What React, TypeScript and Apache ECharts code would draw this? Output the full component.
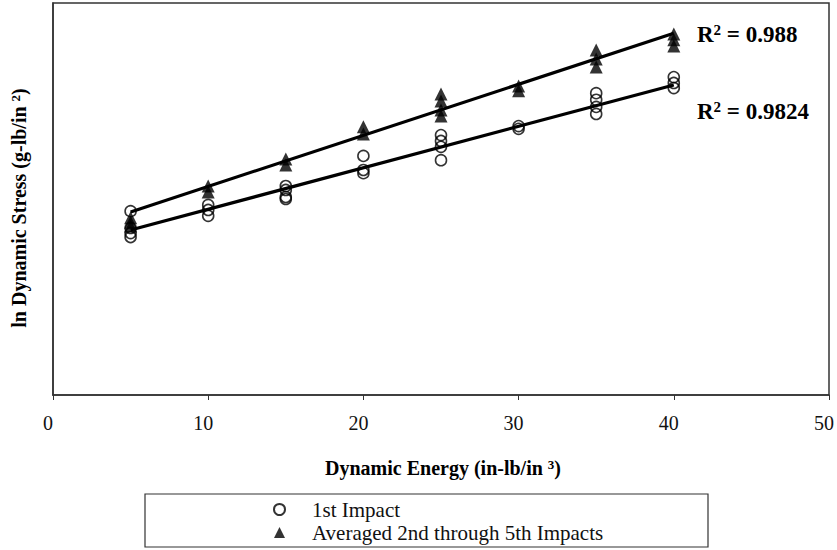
import React, { useEffect, useRef } from "react";
import * as echarts from "echarts";

// Dynamic energy levels (in-lb/in^3)
const energyLevels = [5, 10, 15, 20, 25, 30, 35, 40];

// ln dynamic stress readings (arbitrary units, axis unlabeled), one list per energy level
const firstImpact = [
  [4.69, 4.26, 4.13, 4.03],
  [4.85, 4.72, 4.57],
  [5.33, 5.23, 5.05, 5.0],
  [6.1, 5.74, 5.66],
  [6.63, 6.48, 6.33, 5.99],
  [6.86, 6.79],
  [7.7, 7.53, 7.35, 7.17],
  [8.11, 7.96, 7.83],
];

const averagedImpacts = [
  [4.52, 4.41, 4.31],
  [5.33, 5.18],
  [6.02, 5.87],
  [6.84, 6.66],
  [7.68, 7.5, 7.27, 7.12],
  [7.88, 7.76],
  [8.8, 8.57, 8.37],
  [9.21, 9.06, 8.9],
];

// Linear trendline end points
const trendX = [5, 40];
const trendFirst = [4.21, 7.91];
const trendAveraged = [4.67, 9.23];

const xTicks = [0, 10, 20, 30, 40, 50];
const r2First = "0.9824";
const r2Averaged = "0.988";

const serif = "'Liberation Serif', 'Times New Roman', serif";
const ink = "#111";

function toPoints(groups: number[][]) {
  const out: [number, number][] = [];
  groups.forEach((g, i) => g.forEach((v) => out.push([energyLevels[i], v])));
  return out;
}

export default function App() {
  const ref = useRef<HTMLDivElement>(null);
  useEffect(() => {
    if (!ref.current) return;
    const chart = echarts.init(ref.current, null, { renderer: "svg" });
    const supRich = {
      m: { fontFamily: serif, fontWeight: "bold", fontSize: 20, color: ink },
      s: { fontFamily: serif, fontWeight: "bold", fontSize: 13, color: ink, verticalAlign: "top" },
    };
    const r2Rich = {
      m: { fontFamily: serif, fontWeight: "bold", fontSize: 23, color: ink },
      s: { fontFamily: serif, fontWeight: "bold", fontSize: 15, color: ink, verticalAlign: "top" },
    };
    chart.setOption({
      animation: false,
      backgroundColor: "#fff",
      grid: {
        left: 53,
        right: 5,
        top: 3,
        bottom: 155,
        show: true,
        borderColor: "#333",
        borderWidth: 1.5,
      },
      xAxis: {
        type: "value",
        min: xTicks[0],
        max: xTicks[xTicks.length - 1],
        interval: 10,
        axisLine: { show: true, lineStyle: { color: "#333", width: 1.5 } },
        axisTick: { show: true, inside: false, length: 5, lineStyle: { color: "#333" } },
        axisLabel: {
          fontFamily: serif,
          fontSize: 20,
          color: ink,
          margin: 18,
          padding: [0, 10, 0, 0],
        },
        splitLine: { show: false },
      },
      yAxis: {
        type: "value",
        min: 0,
        max: 10,
        axisLine: { show: true, lineStyle: { color: "#333", width: 1.5 } },
        axisTick: { show: false },
        axisLabel: { show: false },
        splitLine: { show: false },
      },
      legend: {
        show: true,
        orient: "vertical",
        left: 268,
        top: 494,
        itemWidth: 11,
        itemHeight: 11,
        itemGap: 2,
        data: ["1st Impact", "Averaged 2nd through 5th Impacts"],
        textStyle: {
          fontFamily: serif,
          fontSize: 21,
          color: ink,
          padding: [0, 0, 0, 22],
        },
      },
      series: [
        {
          name: "1st Impact",
          type: "scatter",
          symbol: "circle",
          symbolSize: 11,
          itemStyle: { color: "rgba(0,0,0,0)", borderColor: "#000", borderWidth: 1.6 },
          data: toPoints(firstImpact),
          z: 3,
        },
        {
          name: "Averaged 2nd through 5th Impacts",
          type: "scatter",
          symbol: "triangle",
          symbolSize: [13, 13],
          itemStyle: { color: "#000" },
          data: toPoints(averagedImpacts),
          z: 3,
        },
        {
          name: "trend1",
          type: "line",
          showSymbol: false,
          symbol: "none",
          lineStyle: { color: "#000", width: 3.2 },
          data: trendX.map((x, i) => [x, trendFirst[i]]),
          z: 4,
        },
        {
          name: "trend2",
          type: "line",
          showSymbol: false,
          symbol: "none",
          lineStyle: { color: "#000", width: 3.2 },
          data: trendX.map((x, i) => [x, trendAveraged[i]]),
          z: 4,
        },
      ],
      graphic: [
        {
          type: "text",
          x: 697,
          y: 34,
          style: {
            text: `{m|R}{s|2}{m| = ${r2Averaged}}`,
            rich: r2Rich,
            align: "left",
            verticalAlign: "middle",
          },
        },
        {
          type: "text",
          x: 697,
          y: 111,
          style: {
            text: `{m|R}{s|2}{m| = ${r2First}}`,
            rich: r2Rich,
            align: "left",
            verticalAlign: "middle",
          },
        },
        {
          type: "text",
          x: 443,
          y: 468,
          style: {
            text: "{m|Dynamic Energy (in-lb/in }{s|3}{m|)}",
            rich: supRich,
            align: "center",
            verticalAlign: "middle",
          },
        },
        {
          type: "text",
          x: 19,
          y: 208,
          rotation: Math.PI / 2,
          style: {
            text: "{m|ln Dynamic Stress (g-lb/in }{s|2}{m|)}",
            rich: supRich,
            align: "center",
            verticalAlign: "middle",
          },
        },
        {
          type: "rect",
          shape: { x: 145, y: 494, width: 563, height: 53 },
          style: { fill: "none", stroke: "#333", lineWidth: 1.2 },
        },
      ],
    });
    return () => chart.dispose();
  }, []);
  return (
    <div
      ref={ref}
      style={{ position: "fixed", left: 0, top: 0, width: 837, height: 550 }}
    />
  );
}
